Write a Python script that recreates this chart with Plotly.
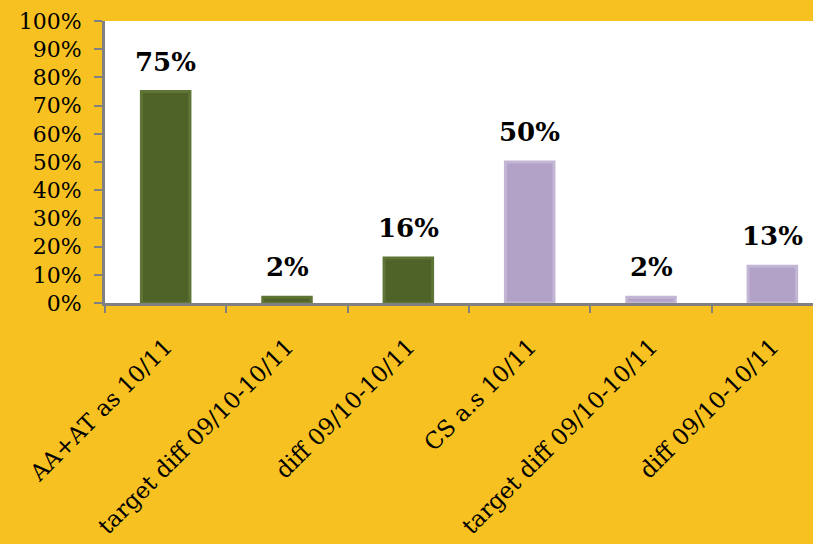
import plotly.graph_objects as go

# Chart data
categories = [
    "AA+AT as 10/11",
    "target diff 09/10-10/11",
    "diff 09/10-10/11",
    "CS a.s 10/11",
    "target diff 09/10-10/11",
    "diff 09/10-10/11",
]
values = [0.75, 0.02, 0.16, 0.50, 0.02, 0.13]
value_labels = ["75%", "2%", "16%", "50%", "2%", "13%"]
bar_colors = ["#4F6228", "#4F6228", "#4F6228", "#B3A2C7", "#B3A2C7", "#B3A2C7"]
edge_colors = ["#5F7535", "#5F7535", "#5F7535", "#C3B5D4", "#C3B5D4", "#C3B5D4"]
y_ticks = [i / 10 for i in range(11)]
y_tick_labels = [f"{i * 10}%" for i in range(11)]

FONT = "DejaVu Serif"
positions = list(range(len(categories)))
boundaries = [p - 0.5 for p in positions] + [positions[-1] + 0.5]

fig = go.Figure()
fig.add_trace(
    go.Bar(
        x=positions,
        y=values,
        width=0.4,
        marker=dict(color=bar_colors, line=dict(color=edge_colors, width=3)),
        hoverinfo="skip",
    )
)

for xi, v, lab in zip(positions, values, value_labels):
    fig.add_annotation(
        x=xi, y=v, text=f"<b>{lab}</b>", showarrow=False,
        yanchor="bottom", yshift=13,
        font=dict(family=FONT, size=26, color="#000000"),
    )

fig.update_layout(
    width=813, height=544,
    margin=dict(l=105, r=0, t=21, b=241, autoexpand=False),
    paper_bgcolor="#F7C221",
    plot_bgcolor="#FFFFFF",
    showlegend=False,
    font=dict(family=FONT, size=20, color="#000000"),
)

fig.update_xaxes(
    range=[-0.5, 5.335],
    tickmode="array", tickvals=positions, ticktext=categories,
    tickangle=-45,
    ticks="outside", ticklen=0,
    minor=dict(tickmode="array", tickvals=boundaries, ticks="outside",
               ticklen=7, tickwidth=2, tickcolor="#808080"),
    showline=True, linecolor="#808080", linewidth=3,
    showgrid=False, zeroline=False,
    automargin=False,
    ticklabelstandoff=18,
    tickfont=dict(family=FONT, size=23),
)
fig.update_yaxes(
    range=[0, 1],
    tickmode="array", tickvals=y_ticks, ticktext=y_tick_labels,
    ticks="outside", ticklen=8, tickwidth=2, tickcolor="#808080",
    showline=True, linecolor="#808080", linewidth=3,
    showgrid=False, zeroline=False,
    automargin=False,
    ticklabelstandoff=8,
    tickfont=dict(family=FONT, size=22),
)

fig.write_html("out.html")
